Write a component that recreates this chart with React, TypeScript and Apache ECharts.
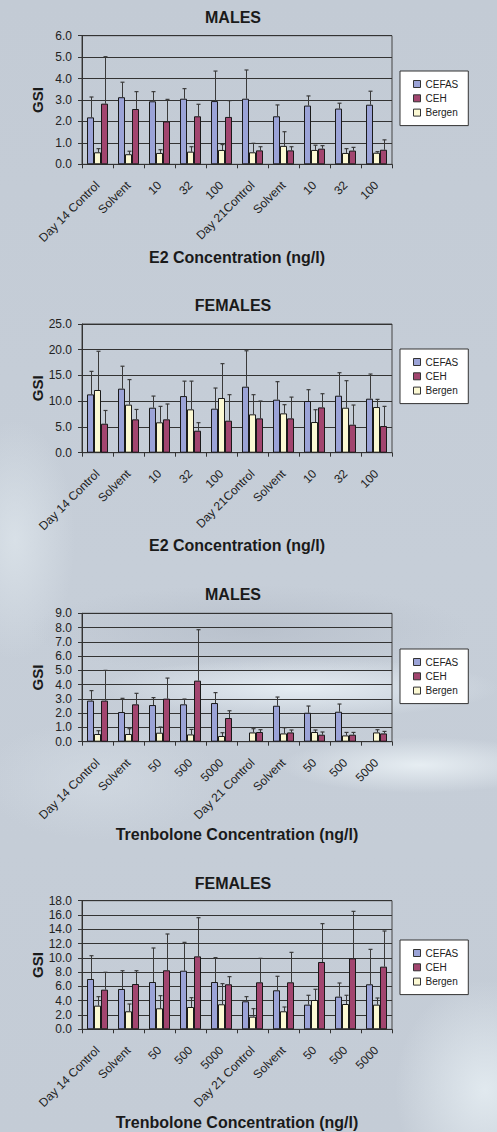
import React, { useEffect, useRef } from "react";
import * as echarts from "echarts";

// ---------- categories ----------
const E2_CATEGORIES = ["Day 14 Control", "Solvent", "10", "32", "100", "Day 21Control", "Solvent", "10", "32", "100"];
const TREN_CATEGORIES = ["Day 14 Control", "Solvent", "50", "500", "5000", "Day 21 Control", "Solvent", "50", "500", "5000"];
const SERIES_NAMES = ["CEFAS", "CEH", "Bergen"];

// ---------- E2 males (mean, upper end of error bar) ----------
const E2_M_CEFAS = [2.19, 3.13, 2.94, 3.06, 2.95, 3.06, 2.24, 2.74, 2.6, 2.78];
const E2_M_CEFAS_UP = [3.14, 3.83, 3.39, 3.53, 4.35, 4.4, 2.77, 3.19, 2.85, 3.41];
const E2_M_BERGEN = [0.56, 0.47, 0.53, 0.59, 0.67, 0.56, 0.86, 0.67, 0.53, 0.54];
const E2_M_BERGEN_UP = [0.73, 0.61, 0.68, 0.82, 0.92, 0.98, 1.52, 0.89, 0.73, 0.59];
const E2_M_CEH = [2.83, 2.58, 2.0, 2.24, 2.21, 0.65, 0.65, 0.73, 0.64, 0.68];
const E2_M_CEH_UP = [5.02, 3.39, 3.03, 2.8, 2.97, 0.82, 0.82, 0.87, 0.79, 1.14];

// ---------- E2 females ----------
const E2_F_CEFAS = [11.33, 12.44, 8.74, 11.0, 8.55, 12.82, 10.3, 10.04, 11.07, 10.49];
const E2_F_CEFAS_UP = [15.8, 16.8, 11.0, 13.9, 12.56, 19.8, 13.8, 12.24, 15.54, 15.28];
const E2_F_BERGEN = [12.18, 9.33, 5.9, 8.42, 10.62, 7.45, 7.64, 5.96, 8.74, 8.87];
const E2_F_BERGEN_UP = [19.7, 14.2, 9.0, 13.9, 17.3, 11.27, 9.33, 8.35, 13.99, 10.36];
const E2_F_CEH = [5.63, 6.48, 6.48, 4.27, 6.22, 6.67, 6.67, 8.8, 5.44, 5.18];
const E2_F_CEH_UP = [8.2, 8.4, 9.46, 5.83, 11.27, 10.04, 10.8, 11.46, 9.26, 9.0];

// ---------- Trenbolone males ----------
const TR_M_CEFAS = [2.88, 2.08, 2.57, 2.62, 2.71, null, 2.52, 2.03, 2.1, null];
const TR_M_CEFAS_UP = [3.58, 3.04, 3.09, 2.99, 3.44, null, 3.13, 2.5, 2.64, null];
const TR_M_BERGEN = [0.54, 0.54, 0.63, 0.51, 0.4, 0.65, 0.58, 0.68, 0.44, 0.65];
const TR_M_BERGEN_UP = [0.77, 0.91, 1.03, 0.86, 0.63, 0.91, 0.98, 0.82, 0.65, 0.84];
const TR_M_CEH = [2.88, 2.62, 3.02, 4.28, 1.66, 0.68, 0.65, 0.49, 0.49, 0.58];
const TR_M_CEH_UP = [5.0, 3.39, 4.46, 7.85, 2.17, 0.84, 0.82, 0.68, 0.65, 0.72];

// ---------- Trenbolone females ----------
const TR_F_CEFAS = [7.04, 5.64, 6.62, 8.2, 6.62, 3.92, 5.46, 3.45, 4.57, 6.3];
const TR_F_CEFAS_UP = [10.3, 8.2, 11.38, 12.17, 10.03, 4.57, 7.42, 4.76, 6.48, 11.19];
const TR_F_BERGEN = [3.31, 2.52, 2.94, 3.12, 3.5, 1.77, 2.52, 4.1, 3.54, 3.45];
const TR_F_BERGEN_UP = [4.57, 3.54, 4.71, 4.43, 6.39, 2.89, 3.12, 5.6, 4.76, 4.38];
const TR_F_CEH = [5.55, 6.34, 8.26, 10.21, 6.3, 6.58, 6.58, 9.42, 9.93, 8.77];
const TR_F_CEH_UP = [7.98, 8.2, 13.34, 15.62, 7.37, 9.93, 10.77, 14.79, 16.51, 13.76];

// ---------- axis scales ----------
const PANEL_TITLES = ["MALES", "FEMALES", "MALES", "FEMALES"];
const X_NAMES = ["E2 Concentration (ng/l)", "E2 Concentration (ng/l)", "Trenbolone Concentration (ng/l)", "Trenbolone Concentration (ng/l)"];
const Y_MAX = [6, 25, 9, 18];
const Y_INTERVAL = [1, 5, 1, 2];

// ---------- layout (positions only) ----------
const GRID_TOP = [35.7, 324, 613.3, 900.7];
const GRID_HEIGHT = [128.6, 128.7, 128.4, 128.6];
const GRID_LEFT = 82;
const GRID_WIDTH = 310;
const TITLE_TOP = [9, 297, 586, 875];
const TITLE_X = 233;
const LEGEND_TOP = [71, 349, 649, 940];
const LEGEND_LEFT = 400;

const FONT = '"Liberation Sans", Arial, Helvetica, sans-serif';
const COLORS: Record<string, string> = { CEFAS: "#9ba3d7", CEH: "#a2456f", Bergen: "#fcf9d3" };
const BAR_W = 7;

export default function App() {
  const ref = useRef<HTMLDivElement>(null);

  useEffect(() => {
    document.body.style.margin = "0";
    document.body.style.background = "#c5cdd7";
    if (!ref.current) return;
    const chart = echarts.init(ref.current, undefined, { renderer: "svg" });

    const panels = [
      { cats: E2_CATEGORIES, CEFAS: [E2_M_CEFAS, E2_M_CEFAS_UP], Bergen: [E2_M_BERGEN, E2_M_BERGEN_UP], CEH: [E2_M_CEH, E2_M_CEH_UP] },
      { cats: E2_CATEGORIES, CEFAS: [E2_F_CEFAS, E2_F_CEFAS_UP], Bergen: [E2_F_BERGEN, E2_F_BERGEN_UP], CEH: [E2_F_CEH, E2_F_CEH_UP] },
      { cats: TREN_CATEGORIES, CEFAS: [TR_M_CEFAS, TR_M_CEFAS_UP], Bergen: [TR_M_BERGEN, TR_M_BERGEN_UP], CEH: [TR_M_CEH, TR_M_CEH_UP] },
      { cats: TREN_CATEGORIES, CEFAS: [TR_F_CEFAS, TR_F_CEFAS_UP], Bergen: [TR_F_BERGEN, TR_F_BERGEN_UP], CEH: [TR_F_CEH, TR_F_CEH_UP] },
    ] as any[];

    const grid: any[] = [];
    const xAxis: any[] = [];
    const yAxis: any[] = [];
    const title: any[] = [];
    const legend: any[] = [];
    const series: any[] = [];

    const barOrder = ["CEFAS", "Bergen", "CEH"];
    const offsets: Record<string, number> = { CEFAS: -BAR_W, Bergen: 0, CEH: BAR_W };

    panels.forEach((p, i) => {
      grid.push({
        left: GRID_LEFT,
        top: GRID_TOP[i],
        width: GRID_WIDTH,
        height: GRID_HEIGHT[i],
        show: true,
        borderColor: "#444",
        borderWidth: 1,
        backgroundColor: "transparent",
        outerBoundsMode: "none",
      });
      xAxis.push({
        type: "category",
        gridIndex: i,
        data: p.cats,
        boundaryGap: true,
        name: X_NAMES[i],
        nameLocation: "middle",
        nameGap: 85,
        nameMoveOverlap: false,
        nameTextStyle: { fontFamily: FONT, fontSize: 16, fontWeight: "bold", color: "#1a1a1a" },
        axisLine: { show: true, lineStyle: { color: "#333", width: 1 } },
        axisTick: { show: true, length: 4, interval: 0, alignWithLabel: false, lineStyle: { color: "#333" } },
        axisLabel: { interval: 0, rotate: 45, margin: 19, fontFamily: FONT, fontSize: 12, color: "#222" },
        splitLine: { show: false },
      });
      yAxis.push({
        type: "value",
        gridIndex: i,
        min: 0,
        max: Y_MAX[i],
        interval: Y_INTERVAL[i],
        name: "GSI",
        nameLocation: "middle",
        nameRotate: 90,
        nameGap: 37,
        nameMoveOverlap: false,
        nameTextStyle: { fontFamily: FONT, fontSize: 15, fontWeight: "bold", color: "#1a1a1a" },
        axisLine: { show: true, lineStyle: { color: "#333", width: 1 } },
        axisTick: { show: true, length: 4, lineStyle: { color: "#333" } },
        axisLabel: { margin: 10, fontFamily: FONT, fontSize: 12, color: "#222", formatter: (v: number) => v.toFixed(1) },
        splitLine: { show: true, lineStyle: { color: "#333", width: 1 } },
      });
      title.push({
        text: PANEL_TITLES[i],
        left: TITLE_X,
        top: TITLE_TOP[i],
        padding: 0,
        textAlign: "center",
        textVerticalAlign: "top",
        textStyle: { fontFamily: FONT, fontSize: 16, fontWeight: "bold", color: "#1a1a1a" },
      });
      legend.push({
        data: SERIES_NAMES,
        orient: "vertical",
        left: LEGEND_LEFT,
        top: LEGEND_TOP[i],
        padding: [7, 10, 7, 13],
        itemGap: 2.3,
        itemWidth: 7,
        itemHeight: 7,
        icon: "rect",
        backgroundColor: "#ffffff",
        borderColor: "#333",
        borderWidth: 1,
        borderRadius: 0,
        selectedMode: false,
        itemStyle: { borderColor: "#333", borderWidth: 1 },
        textStyle: { fontFamily: FONT, fontSize: 10, color: "#222", lineHeight: 12, padding: 0 },
      });

      barOrder.forEach((name) => {
        const [vals, ups] = p[name];
        series.push({
          type: "bar",
          name,
          xAxisIndex: i,
          yAxisIndex: i,
          data: vals.map((v: number | null) => (v == null ? "-" : v)),
          barWidth: BAR_W,
          barGap: "0%",
          itemStyle: { color: COLORS[name], borderColor: "#1a1a1a", borderWidth: 1 },
          emphasis: { disabled: true },
          z: 2,
        });
        const errData: any[] = [];
        vals.forEach((v: number | null, j: number) => {
          if (v != null && ups[j] != null) errData.push([j, v, ups[j]]);
        });
        const off = offsets[name];
        series.push({
          type: "custom",
          name: name + " error",
          xAxisIndex: i,
          yAxisIndex: i,
          data: errData,
          encode: { x: 0, y: [1, 2] },
          z: 3,
          silent: true,
          renderItem: (params: any, api: any) => {
            const x = api.value(0);
            const p0 = api.coord([x, api.value(1)]);
            const p1 = api.coord([x, api.value(2)]);
            const cx = Math.round(p0[0] + off) + 0.5;
            return {
              type: "group",
              children: [
                { type: "line", shape: { x1: cx, y1: p0[1], x2: cx, y2: p1[1] }, style: { stroke: "#3a3a3a", lineWidth: 1 } },
                { type: "line", shape: { x1: cx - 2, y1: p1[1], x2: cx + 2, y2: p1[1] }, style: { stroke: "#3a3a3a", lineWidth: 1.2 } },
              ],
            };
          },
        });
      });
    });

    chart.setOption({
      animation: false,
      backgroundColor: "transparent",
      title,
      legend,
      grid,
      xAxis,
      yAxis,
      series,
    });

    return () => chart.dispose();
  }, []);

  const bg = [
    "radial-gradient(ellipse 200px 30px at 300px 688px, rgba(232,240,246,0.9), rgba(232,240,246,0))",
    "radial-gradient(ellipse 140px 28px at 420px 765px, rgba(236,243,247,0.85), rgba(236,243,247,0))",
    "radial-gradient(ellipse 220px 45px at 250px 630px, rgba(175,183,195,0.55), rgba(175,183,195,0))",
    "radial-gradient(ellipse 60px 120px at 15px 540px, rgba(222,230,236,0.75), rgba(222,230,236,0))",
    "radial-gradient(ellipse 90px 110px at 485px 1090px, rgba(230,238,243,0.85), rgba(230,238,243,0))",
    "radial-gradient(ellipse 120px 60px at 100px 780px, rgba(214,222,230,0.6), rgba(214,222,230,0))",
    "linear-gradient(#c3cbd5, #c6ced8 50%, #c4ccd6)",
  ].join(", ");

  return (
    <div
      ref={ref}
      style={{ position: "absolute", left: 0, top: 0, width: 497, height: 1132, background: bg }}
    />
  );
}
